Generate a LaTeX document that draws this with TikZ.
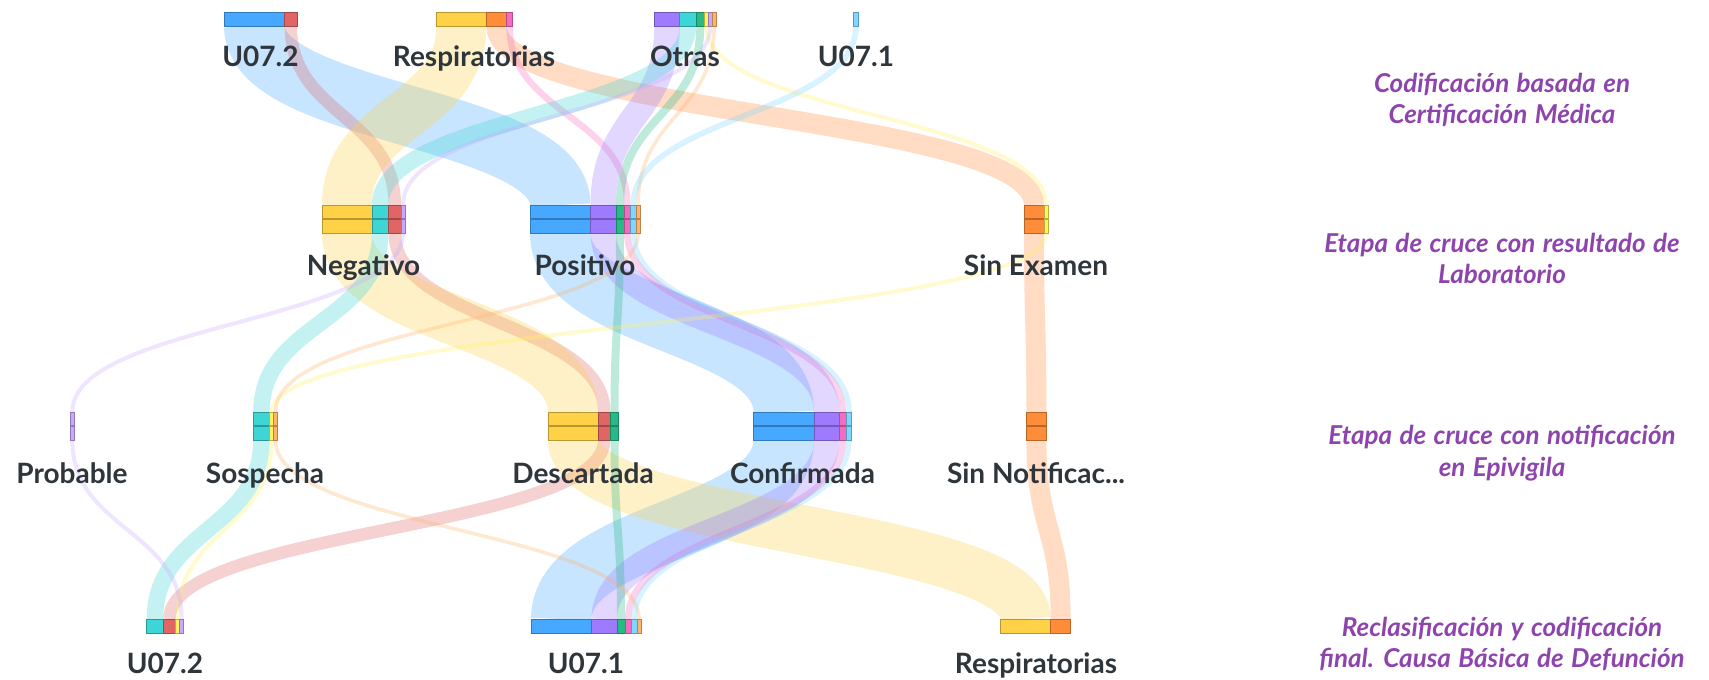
\documentclass[tikz,border=0pt]{standalone}
\usepackage{fontspec}
\setmainfont{Lato}
\newfontfamily\capfam[WordSpace=1.3]{Lato}
\pgfdeclarelayer{bg}
\pgfsetlayers{bg,main}
\definecolor{cblue}{HTML}{46A8FF}
\definecolor{cred}{HTML}{E06666}
\definecolor{cyellow}{HTML}{FFD147}
\definecolor{corange}{HTML}{FF8C38}
\definecolor{cpink}{HTML}{F46BC0}
\definecolor{cpurple}{HTML}{9E7AFF}
\definecolor{cteal}{HTML}{3DD5D5}
\definecolor{cgreen}{HTML}{26BA86}
\definecolor{clyellow}{HTML}{FFF35C}
\definecolor{clpurple}{HTML}{C9A8FF}
\definecolor{clorange}{HTML}{FFB36B}
\definecolor{csky}{HTML}{7FD6FF}
\definecolor{labgray}{HTML}{2E353B}
\definecolor{capurple}{HTML}{8E44AD}
\newcommand\labfont{\fontsize{28}{32}\selectfont\bfseries}
\newcommand\capfont{\capfam\fontsize{26}{30}\selectfont\bfseries\itshape}
% ribbon: colour, from segment, to segment, width
\newcommand\rib[4]{\draw[#1, draw opacity=.3, line width=#4] (#2.south) .. controls +(0,89.5) and +(0,-89.5) .. (#3.north);}
\tikzset{
  seg/.style={draw=#1!72!black, fill=#1, line width=0.8pt, inner sep=0pt, outer sep=0pt, anchor=north west, minimum height=14pt},
  mseg/.style={seg=#1, minimum height=28pt, path picture={\draw[#1!72!black, line width=1.2pt] (path picture bounding box.west) -- (path picture bounding box.east);}},
  lab/.style={text=labgray, font=\labfont, anchor=base, inner sep=0pt},
  capt/.style={text=capurple, font=\capfont, anchor=base, inner sep=0pt}
}
\begin{document}
\begin{tikzpicture}[x=1pt,y=-1pt]
\useasboundingbox (0,0) rectangle (1709,680);
% ---- level 1
\node[seg=cblue, minimum width=60.5] (a-blue) at (224,12) {};
\node[seg=cred, minimum width=12.5] (a-red) at (284.5,12) {};
\node[seg=cyellow, minimum width=50] (a-yellow) at (436.3,12) {};
\node[seg=corange, minimum width=20] (a-orange) at (486.3,12) {};
\node[seg=cpink, minimum width=6.5] (a-pink) at (506.3,12) {};
\node[seg=cpurple, minimum width=25.5] (a-purple) at (654.3,12) {};
\node[seg=cteal, minimum width=16.5] (a-teal) at (679.8,12) {};
\node[seg=cgreen, minimum width=8] (a-green) at (696.3,12) {};
\node[seg=clyellow, minimum width=4] (a-ly) at (704.3,12) {};
\node[seg=clpurple, minimum width=4] (a-lp) at (708.3,12) {};
\node[seg=clorange, minimum width=3.6] (a-lo) at (712.3,12) {};
\node[seg=csky, minimum width=5.8] (a-sky) at (853,12) {};
% ---- level 2
\node[mseg=cyellow, minimum width=50] (b-yellow) at (322,205) {};
\node[mseg=cteal, minimum width=16.5] (b-teal) at (372,205) {};
\node[mseg=cred, minimum width=12.5] (b-red) at (388.5,205) {};
\node[mseg=clpurple, minimum width=4] (b-lp) at (401,205) {};
\node[mseg=cblue, minimum width=60.5] (b-blue) at (530,205) {};
\node[mseg=cpurple, minimum width=25.5] (b-purple) at (590.5,205) {};
\node[mseg=cgreen, minimum width=8] (b-green) at (616,205) {};
\node[mseg=cpink, minimum width=6.5] (b-pink) at (624,205) {};
\node[mseg=csky, minimum width=5.8] (b-sky) at (630.5,205) {};
\node[mseg=clorange, minimum width=3.6] (b-lo) at (636.3,205) {};
\node[mseg=corange, minimum width=20] (b-orange) at (1024,205) {};
\node[mseg=clyellow, minimum width=4] (b-ly) at (1044,205) {};
% ---- level 3
\node[mseg=clpurple, minimum width=4] (c-lp) at (70.3,412) {};
\node[mseg=cteal, minimum width=16.5] (c-teal) at (253.2,412) {};
\node[mseg=clyellow, minimum width=4] (c-ly) at (269.7,412) {};
\node[mseg=clorange, minimum width=3.6] (c-lo) at (273.7,412) {};
\node[mseg=cyellow, minimum width=50] (c-yellow) at (548,412) {};
\node[mseg=cred, minimum width=12.5] (c-red) at (598,412) {};
\node[mseg=cgreen, minimum width=8] (c-green) at (610.5,412) {};
\node[mseg=cblue, minimum width=60.5] (c-blue) at (753.5,412) {};
\node[mseg=cpurple, minimum width=25.5] (c-purple) at (814,412) {};
\node[mseg=cpink, minimum width=6.5] (c-pink) at (839.5,412) {};
\node[mseg=csky, minimum width=5.8] (c-sky) at (846,412) {};
\node[mseg=corange, minimum width=20] (c-orange) at (1026.4,412) {};
% ---- level 4
\node[seg=cteal, minimum width=16.5] (d-teal) at (146.7,619) {};
\node[seg=cred, minimum width=12.5] (d-red) at (163.2,619) {};
\node[seg=clyellow, minimum width=4] (d-ly) at (175.7,619) {};
\node[seg=clpurple, minimum width=4] (d-lp) at (179.7,619) {};
\node[seg=cblue, minimum width=60.5] (d-blue) at (531,619) {};
\node[seg=cpurple, minimum width=25.5] (d-purple) at (591.5,619) {};
\node[seg=cgreen, minimum width=8] (d-green) at (617,619) {};
\node[seg=cpink, minimum width=6.5] (d-pink) at (625,619) {};
\node[seg=csky, minimum width=5.8] (d-sky) at (631.5,619) {};
\node[seg=clorange, minimum width=3.6] (d-lo) at (637.3,619) {};
\node[seg=cyellow, minimum width=50] (d-yellow) at (1000.7,619) {};
\node[seg=corange, minimum width=20] (d-orange) at (1050.7,619) {};
% ---- ribbons
\begin{pgfonlayer}{bg}
\rib{cblue}{a-blue}{b-blue}{60.5} \rib{cblue}{b-blue}{c-blue}{60.5} \rib{cblue}{c-blue}{d-blue}{60.5}
\rib{cred}{a-red}{b-red}{12.5} \rib{cred}{b-red}{c-red}{12.5} \rib{cred}{c-red}{d-red}{12.5}
\rib{cyellow}{a-yellow}{b-yellow}{50} \rib{cyellow}{b-yellow}{c-yellow}{50} \rib{cyellow}{c-yellow}{d-yellow}{50}
\rib{corange}{a-orange}{b-orange}{20} \rib{corange}{b-orange}{c-orange}{20} \rib{corange}{c-orange}{d-orange}{20}
\rib{cpink}{a-pink}{b-pink}{6.5} \rib{cpink}{b-pink}{c-pink}{6.5} \rib{cpink}{c-pink}{d-pink}{6.5}
\rib{cpurple}{a-purple}{b-purple}{25.5} \rib{cpurple}{b-purple}{c-purple}{25.5} \rib{cpurple}{c-purple}{d-purple}{25.5}
\rib{cteal}{a-teal}{b-teal}{16.5} \rib{cteal}{b-teal}{c-teal}{16.5} \rib{cteal}{c-teal}{d-teal}{16.5}
\rib{cgreen}{a-green}{b-green}{8} \rib{cgreen}{b-green}{c-green}{8} \rib{cgreen}{c-green}{d-green}{8}
\rib{clyellow}{a-ly}{b-ly}{4} \rib{clyellow}{b-ly}{c-ly}{4} \rib{clyellow}{c-ly}{d-ly}{4}
\rib{clpurple}{a-lp}{b-lp}{4} \rib{clpurple}{b-lp}{c-lp}{4} \rib{clpurple}{c-lp}{d-lp}{4}
\rib{clorange}{a-lo}{b-lo}{3.6} \rib{clorange}{b-lo}{c-lo}{3.6} \rib{clorange}{c-lo}{d-lo}{3.6}
\rib{csky}{a-sky}{b-sky}{5.8} \rib{csky}{b-sky}{c-sky}{5.8} \rib{csky}{c-sky}{d-sky}{5.8}
\end{pgfonlayer}
% ---- labels
\node[lab] (la1) at (260.5,66) {U07.2};
\node[lab] (la2) at (474,66) {Respiratorias};
\node[lab] (la3) at (685,66) {Otras};
\node[lab] (la4) at (856,66) {U07.1};
\node[lab] (lb1) at (363.5,275) {Negativo};
\node[lab] (lb2) at (585,275) {Positivo};
\node[lab] (lb3) at (1036,275) {Sin Examen};
\node[lab] (lc1) at (72,483) {Probable};
\node[lab] (lc2) at (265,483) {Sospecha};
\node[lab] (lc3) at (583,483) {Descartada};
\node[lab] (lc4) at (802.5,483) {Confirmada};
\node[lab] (lc5) at (1036,483) {Sin Notificac...};
\node[lab] (ld1) at (165,673) {U07.2};
\node[lab] (ld2) at (586,673) {U07.1};
\node[lab] (ld3) at (1036,673) {Respiratorias};
% ---- stage captions
\node[capt] (s1a) at (1502,92) {Codificación basada en};
\node[capt] (s1b) at (1502,123) {Certificación Médica};
\node[capt] (s2a) at (1502,252) {Etapa de cruce con resultado de};
\node[capt] (s2b) at (1502,283) {Laboratorio};
\node[capt] (s3a) at (1502,444) {Etapa de cruce con notificación};
\node[capt] (s3b) at (1502,476) {en Epivigila};
\node[capt] (s4a) at (1502,636) {Reclasificación y codificación};
\node[capt] (s4b) at (1502,667) {final. Causa Básica de Defunción};
\end{tikzpicture}
\end{document}
